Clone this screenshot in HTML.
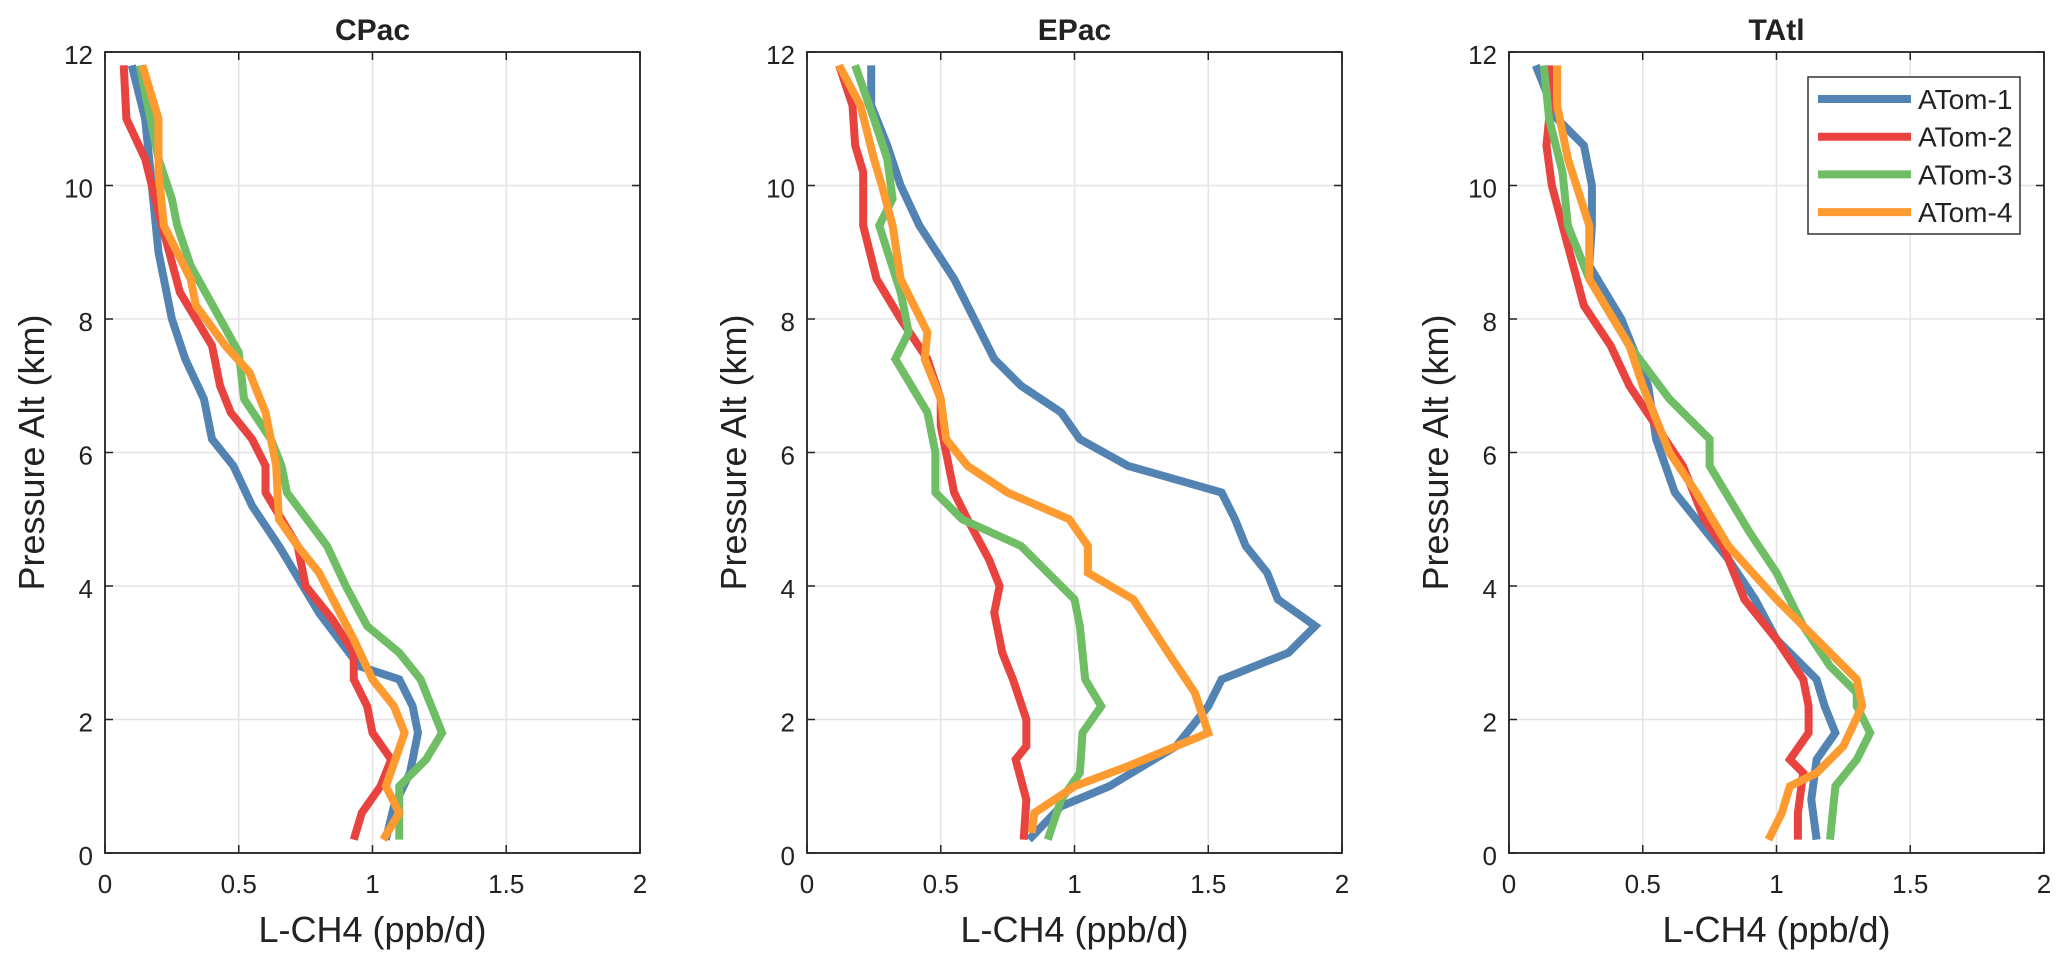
<!DOCTYPE html>
<html><head><meta charset="utf-8"><style>
html,body{margin:0;padding:0;background:#fff;}
svg text{font-family:"Liberation Sans",sans-serif;fill:#222;}
</style></head><body>
<svg id="chart" width="2067" height="968" viewBox="0 0 2067 968" xmlns="http://www.w3.org/2000/svg"></svg>
<script>
const panelTitles = ["CPac", "EPac", "TAtl"];
const seriesNames = ["ATom-1", "ATom-2", "ATom-3", "ATom-4"];
const xTicks = [0, 0.5, 1, 1.5, 2];
const yTicks = [0, 2, 4, 6, 8, 10, 12];
// each series: pairs [L-CH4 value, altitude km]
const cpacAtom1 = [[0.1,11.8],[0.15,11],[0.17,10.2],[0.2,9],[0.25,8],[0.3,7.4],[0.37,6.8],[0.4,6.2],[0.48,5.8],[0.55,5.2],[0.65,4.6],[0.8,3.6],[0.95,2.8],[1.1,2.6],[1.15,2.2],[1.17,1.8],[1.14,1.2],[1.08,0.7],[1.05,0.2]];
const cpacAtom2 = [[0.07,11.8],[0.08,11],[0.15,10.4],[0.2,9.6],[0.28,8.4],[0.4,7.6],[0.43,7.0],[0.47,6.6],[0.55,6.2],[0.6,5.8],[0.6,5.4],[0.72,4.6],[0.75,4.0],[0.85,3.5],[0.93,3],[0.93,2.6],[0.98,2.2],[1.0,1.8],[1.07,1.4],[1.03,1.0],[0.96,0.6],[0.93,0.2]];
const cpacAtom3 = [[0.13,11.8],[0.2,10.4],[0.25,9.8],[0.27,9.4],[0.32,8.8],[0.5,7.5],[0.52,6.8],[0.62,6.2],[0.66,5.8],[0.68,5.4],[0.83,4.6],[0.9,4.0],[0.98,3.4],[1.1,3.0],[1.18,2.6],[1.26,1.8],[1.2,1.4],[1.1,1.0],[1.1,0.2]];
const cpacAtom4 = [[0.14,11.8],[0.2,11],[0.2,10.2],[0.22,9.4],[0.32,8.6],[0.34,8.2],[0.45,7.6],[0.54,7.2],[0.6,6.6],[0.64,5.8],[0.65,5.0],[0.72,4.6],[0.8,4.2],[0.93,3.2],[1.0,2.6],[1.08,2.2],[1.12,1.8],[1.05,1.0],[1.1,0.6],[1.04,0.2]];
const epacAtom1 = [[0.24,11.8],[0.24,11.2],[0.3,10.6],[0.35,10],[0.42,9.4],[0.55,8.6],[0.7,7.4],[0.8,7.0],[0.95,6.6],[1.02,6.2],[1.2,5.8],[1.55,5.4],[1.6,5.0],[1.64,4.6],[1.72,4.2],[1.76,3.8],[1.9,3.4],[1.8,3.0],[1.55,2.6],[1.5,2.2],[1.38,1.6],[1.13,1.0],[0.95,0.7],[0.83,0.2]];
const epacAtom2 = [[0.12,11.8],[0.17,11.2],[0.18,10.6],[0.21,10.2],[0.21,9.4],[0.26,8.6],[0.35,8],[0.45,7.4],[0.5,6.8],[0.5,6.4],[0.52,6.0],[0.55,5.4],[0.6,5.0],[0.68,4.4],[0.72,4.0],[0.7,3.6],[0.73,3.0],[0.77,2.6],[0.82,2.0],[0.82,1.6],[0.78,1.4],[0.82,0.8],[0.81,0.2]];
const epacAtom3 = [[0.18,11.8],[0.25,11],[0.3,10.4],[0.32,9.8],[0.27,9.4],[0.35,8.4],[0.38,7.8],[0.33,7.4],[0.45,6.6],[0.48,6],[0.48,5.4],[0.58,5],[0.8,4.6],[0.9,4.2],[1.0,3.8],[1.02,3.4],[1.04,2.6],[1.1,2.2],[1.03,1.8],[1.02,1.2],[0.95,0.8],[0.9,0.2]];
const epacAtom4 = [[0.12,11.8],[0.2,11.2],[0.25,10.4],[0.28,10],[0.32,9.4],[0.35,8.6],[0.45,7.8],[0.44,7.4],[0.5,6.8],[0.52,6.2],[0.6,5.8],[0.75,5.4],[0.98,5.0],[1.05,4.6],[1.05,4.2],[1.22,3.8],[1.35,3.0],[1.45,2.4],[1.5,1.8],[1.2,1.3],[1.0,1.0],[0.85,0.6],[0.84,0.3]];
const tatlAtom1 = [[0.1,11.8],[0.18,11],[0.28,10.6],[0.31,10],[0.31,9.4],[0.3,8.8],[0.42,8],[0.52,7],[0.55,6.2],[0.62,5.4],[0.7,5.0],[0.82,4.4],[0.92,3.8],[1.0,3.2],[1.05,3],[1.15,2.6],[1.18,2.2],[1.22,1.8],[1.15,1.4],[1.13,0.8],[1.15,0.2]];
const tatlAtom2 = [[0.15,11.8],[0.15,11],[0.14,10.6],[0.16,10],[0.2,9.4],[0.28,8.2],[0.38,7.6],[0.45,7.0],[0.55,6.4],[0.65,5.8],[0.73,5.0],[0.8,4.6],[0.88,3.8],[1.0,3.2],[1.1,2.6],[1.12,2.2],[1.12,1.8],[1.05,1.4],[1.1,1.2],[1.08,0.6],[1.08,0.2]];
const tatlAtom3 = [[0.13,11.8],[0.15,11],[0.2,10.2],[0.22,9.4],[0.3,8.6],[0.45,7.6],[0.6,6.8],[0.75,6.2],[0.75,5.8],[0.9,4.8],[1.0,4.2],[1.1,3.4],[1.2,2.8],[1.3,2.4],[1.3,2.2],[1.35,1.8],[1.3,1.4],[1.22,1.0],[1.2,0.2]];
const tatlAtom4 = [[0.18,11.8],[0.18,11.2],[0.22,10.4],[0.3,9.4],[0.3,8.6],[0.45,7.6],[0.5,7.0],[0.6,6.0],[0.7,5.4],[0.82,4.6],[1.0,3.8],[1.2,3.0],[1.3,2.6],[1.32,2.2],[1.25,1.6],[1.15,1.2],[1.05,1.0],[1.02,0.6],[0.97,0.2]];

const panelData = [[cpacAtom1,cpacAtom2,cpacAtom3,cpacAtom4],[epacAtom1,epacAtom2,epacAtom3,epacAtom4],[tatlAtom1,tatlAtom2,tatlAtom3,tatlAtom4]];
const colors = ["#5383b2","#e8433f","#6fbe66","#fd9a30"];
const lefts = [105, 807, 1509];
const W = 535, TOP = 52, BOT = 853;
const svg = document.getElementById('chart');
const NS = "http://www.w3.org/2000/svg";
function mk(tag, attrs, parent){const e=document.createElementNS(NS,tag);for(const k in attrs)e.setAttribute(k,attrs[k]);(parent||svg).appendChild(e);return e;}

panelData.forEach((series, p) => {
  const L = lefts[p];
  const xs = v => L + v / 2 * W;
  const ys = v => BOT - v / 12 * (BOT - TOP);
  const g = mk('g', {});
  
  
  xTicks.forEach(t => {
    const l = mk('line',{x1:xs(t),x2:xs(t),y1:TOP,y2:BOT,stroke:'#e4e4e4','stroke-width':1.5},g);
    
    
    mk('line',{x1:xs(t),x2:xs(t),y1:BOT,y2:BOT-8,stroke:'#222','stroke-width':1.5},g);
    mk('line',{x1:xs(t),x2:xs(t),y1:TOP,y2:TOP+8,stroke:'#222','stroke-width':1.5},g);
    const tx = mk('text',{x:xs(t),y:893,'text-anchor':'middle','font-size':26},g);
    tx.textContent = t;
    
    
  });
  yTicks.forEach(t => {
    const l = mk('line',{x1:L,x2:L+W,y1:ys(t),y2:ys(t),stroke:'#e4e4e4','stroke-width':1.5},g);
    
    
    mk('line',{x1:L,x2:L+8,y1:ys(t),y2:ys(t),stroke:'#222','stroke-width':1.5},g);
    mk('line',{x1:L+W,x2:L+W-8,y1:ys(t),y2:ys(t),stroke:'#222','stroke-width':1.5},g);
    const tx = mk('text',{x:L-12,y:ys(t)+12,'text-anchor':'end','font-size':26},g);
    tx.textContent = t;
    
    
  });
  series.forEach((pts, s) => {
    const pl = mk('polyline',{points:pts.map(d=>xs(d[0])+','+ys(d[1])).join(' '),fill:'none',stroke:colors[s],'stroke-width':8,'stroke-linejoin':'miter'},g);
    
    
  });
  const box = mk('rect',{x:L,y:TOP,width:W,height:BOT-TOP,fill:'none',stroke:'#222','stroke-width':1.8},g);
  
  
  const ti = mk('text',{x:L+W/2,y:40,'text-anchor':'middle','font-size':30,'font-weight':'bold'},g);
  ti.textContent = panelTitles[p];
  
  
  const xl = mk('text',{x:L+W/2,y:942,'text-anchor':'middle','font-size':36},g);
  xl.textContent = 'L-CH4 (ppb/d)';
  
  
  const yl = mk('text',{x:0,y:0,'text-anchor':'middle','font-size':36,transform:'translate('+(L-61)+','+((TOP+BOT)/2)+') rotate(-90)'},g);
  yl.textContent = 'Pressure Alt (km)';
  
  
});

const lg = mk('g',{});


mk('rect',{x:1808,y:77,width:212,height:157,fill:'#fff',stroke:'#333','stroke-width':1.5},lg);
seriesNames.forEach((n,i)=>{
  const y = 99 + i*37.7;
  const ln = mk('line',{x1:1818,x2:1911,y1:y,y2:y,stroke:colors[i],'stroke-width':8},lg);
  
  
  const t = mk('text',{x:1918,y:y+10,'font-size':28},lg);
  t.textContent = n;
  
  
});
</script>
</body></html>
